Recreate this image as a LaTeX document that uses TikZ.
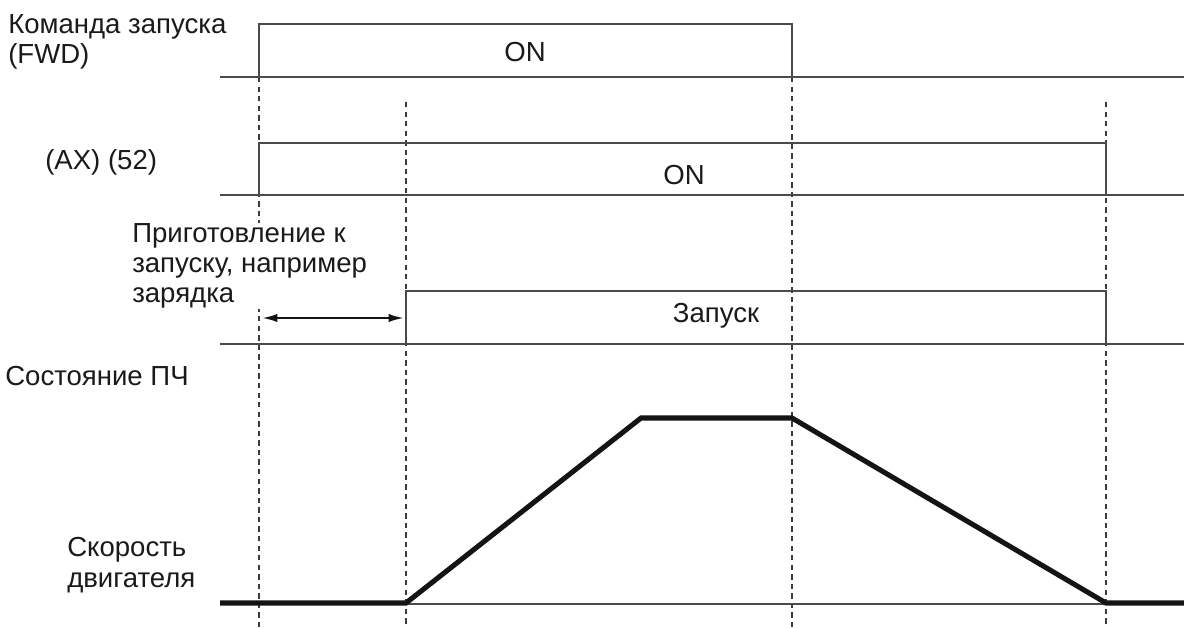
\documentclass[tikz,border=0pt]{standalone}
\usepackage{fontspec}
\setmainfont{Liberation Sans}
\usetikzlibrary{arrows.meta}
\definecolor{td-line}{HTML}{4A4A4A}
\definecolor{td-text}{HTML}{1A1A1A}
\definecolor{td-speed}{HTML}{141414}
\definecolor{td-dash}{HTML}{3C3C3C}
\tikzset{
  sig/.style={td-line, line width=1.8pt},
  guide/.style={td-dash, line width=2pt, dash pattern=on 3.8pt off 3pt},
  lbl/.style={td-text, anchor=west, align=left, inner sep=0pt},
}

\begin{document}
\begin{tikzpicture}[x=0.025cm, y=-0.025cm, font=\fontsize{19.6}{21.6}\selectfont]
    \useasboundingbox (0,0) rectangle (1184,628);

    % Time markers (dashed)
    \draw[guide] (259,77) -- (259,628);
    \draw[guide] (406,102) -- (406,628);
    \draw[guide] (792,77) -- (792,628);
    \draw[guide] (1106,102) -- (1106,628);

    % Run command (FWD)
    \draw[sig] (220,77) -- (1184,77);
    \draw[sig] (259,77) -- (259,24) -- (792,24) -- (792,77);
    \node[lbl] (lblFwd) at (8,42) {Команда запуска\\(FWD)};
    \node[td-text] (onFwd) at (525,52) {ON};

    % (AX) (52)
    \draw[sig] (220,195) -- (1184,195);
    \draw[sig] (259,195) -- (259,143) -- (1106,143) -- (1106,195);
    \node[lbl] (lblAx) at (45,162) {(AX) (52)};
    \node[td-text] (onAx) at (684,175) {ON};

    % Inverter state
    \draw[sig] (220,344) -- (1184,344);
    \draw[sig] (406,344) -- (406,291) -- (1106,291) -- (1106,344);
    \node[lbl, fill=white] (lblPrep) at (132,266) {Приготовление к\\запуску, например\\зарядка};
    \node[td-text] (run) at (716,316) {Запуск};
    \node[lbl] (lblState) at (5,376) {Состояние ПЧ};
    \coordinate (prepL) at (262,318);
    \coordinate (prepR) at (404,318);
    \draw[{Latex[length=11pt,width=6pt]}-{Latex[length=11pt,width=6pt]}, td-speed, line width=1.6pt] (prepL) -- (prepR);

    % Motor speed
    \draw[td-line, line width=1.3pt] (406,604) -- (1106,604);
    \draw[td-speed, line width=3.6pt, line join=miter] (220,603) -- (406,603) -- (641,418) -- (792,418) -- (1106,603) -- (1184,603);
    \node[lbl] (lblSpeed) at (67,565) {Скорость\\двигателя};
\end{tikzpicture}
\end{document}
